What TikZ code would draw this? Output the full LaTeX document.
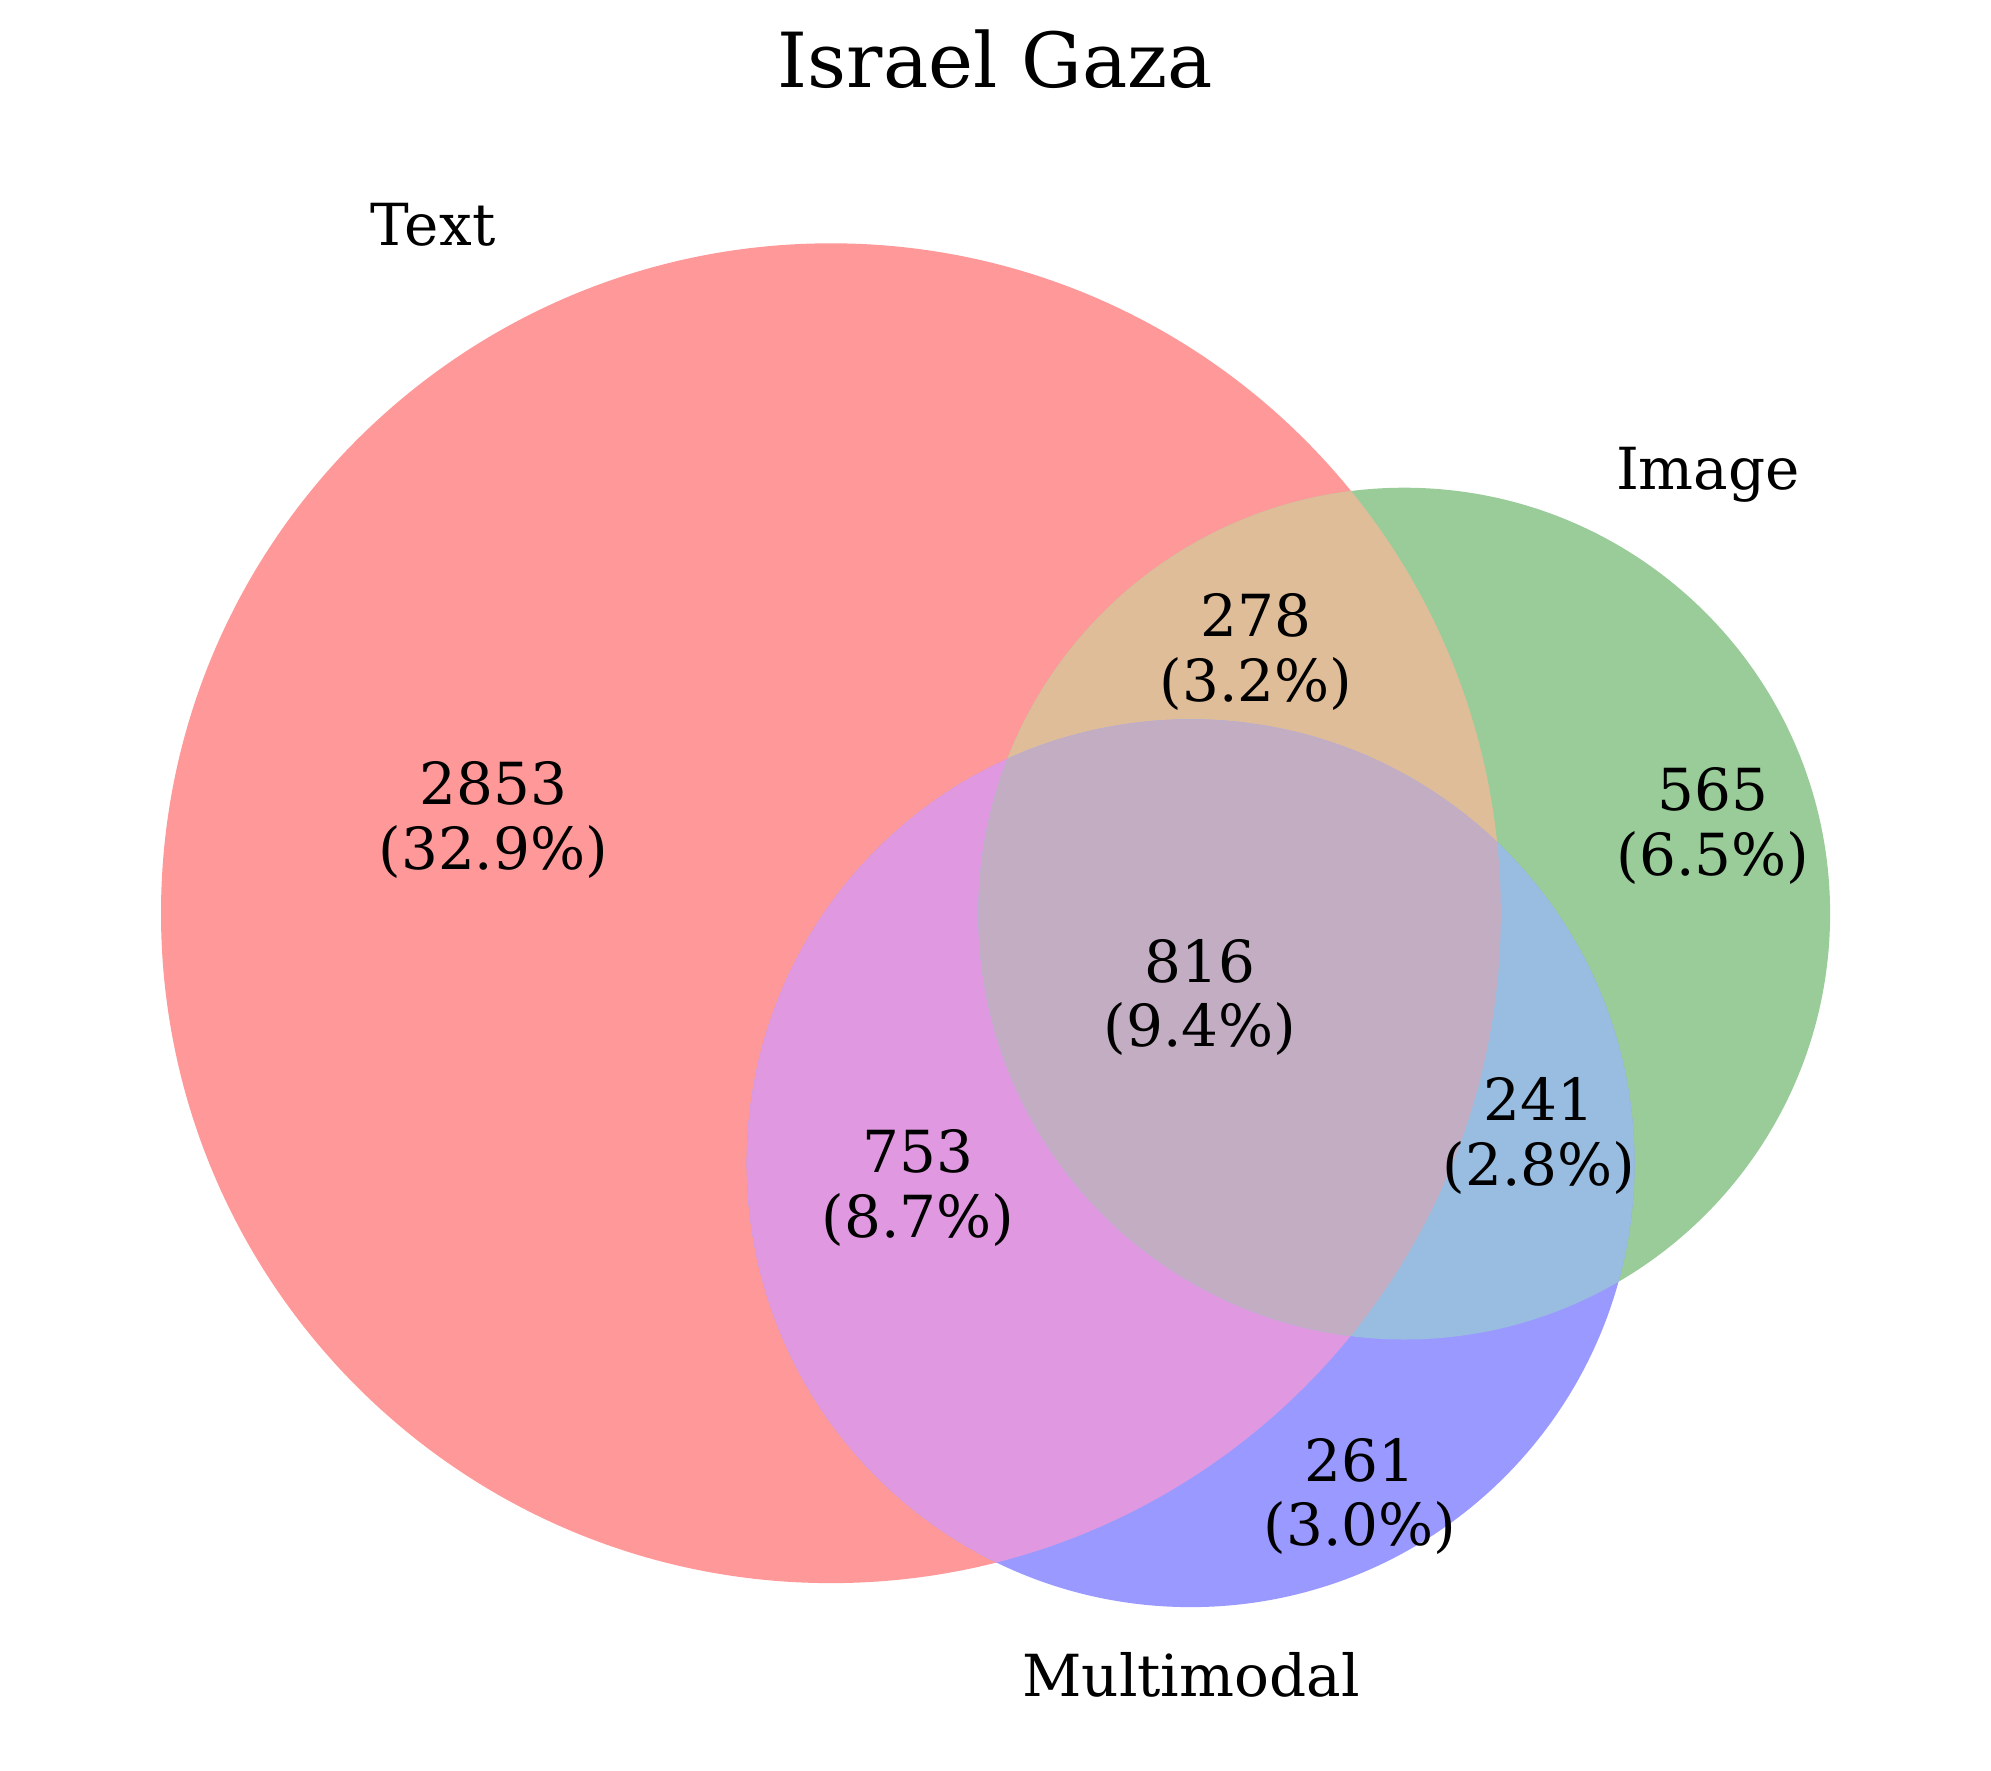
\documentclass[tikz,border=0pt]{standalone}
\usepackage{fontspec}
\setmainfont{DejaVu Serif}
\definecolor{cT}{RGB}{255,153,153}
\definecolor{cI}{RGB}{153,204,153}
\definecolor{cM}{RGB}{153,153,255}
\definecolor{cTI}{RGB}{224,189,153}
\definecolor{cTM}{RGB}{224,153,224}
\definecolor{cIM}{RGB}{153,189,224}
\definecolor{cTIM}{RGB}{194,173,194}
\begin{document}
\begin{tikzpicture}[x=1pt,y=-1pt,
  num/.style={font=\fontsize{58}{66}\selectfont, inner sep=0pt, anchor=base},
  titlestyle/.style={font=\fontsize{76}{90}\selectfont, inner sep=0pt, anchor=base}]
\useasboundingbox (0,0) rectangle (1991,1770);
\fill[white] (0,0) rectangle (1991,1770);
\def\rT{669.9}
\def\rI{425.9}
\def\rM{443.9}
\coordinate (cenT) at (830.9,913.2);
\coordinate (cenI) at (1404.2,913.6);
\coordinate (cenM) at (1190.6,1163.2);
% single sets
\fill[cT] (cenT) circle[radius=\rT];
\fill[cI] (cenI) circle[radius=\rI];
\fill[cM] (cenM) circle[radius=\rM];
% pairwise
\begin{scope}
\clip (cenT) circle[radius=\rT];
\fill[cTI] (cenI) circle[radius=\rI];
\end{scope}
\begin{scope}
\clip (cenT) circle[radius=\rT];
\fill[cTM] (cenM) circle[radius=\rM];
\end{scope}
\begin{scope}
\clip (cenI) circle[radius=\rI];
\fill[cIM] (cenM) circle[radius=\rM];
\end{scope}
% triple
\begin{scope}
\clip (cenT) circle[radius=\rT];
\clip (cenI) circle[radius=\rI];
\fill[cTIM] (cenM) circle[radius=\rM];
\end{scope}
% title and set labels
\node[titlestyle] (title) at (995.5,87.3) {Israel Gaza};
\node[num] (labT) at (433,245) {Text};
\node[num] (labI) at (1708,489) {Image};
\node[num] (labM) at (1191,1696.7) {Multimodal};
% region labels
\node[num] (r100) at (493.3,804.3) {2853};
\node[num] (r100p) at (493.3,869.0) {(32.9\%)};
\node[num] (r110) at (1255.8,636.7) {278};
\node[num] (r110p) at (1255.8,701.4) {(3.2\%)};
\node[num] (r010) at (1713,810.6) {565};
\node[num] (r010p) at (1713,875.3) {(6.5\%)};
\node[num] (r111) at (1200,982.1) {816};
\node[num] (r111p) at (1200,1046.8) {(9.4\%)};
\node[num] (r011) at (1539,1120.5) {241};
\node[num] (r011p) at (1539,1185.2) {(2.8\%)};
\node[num] (r101) at (918,1172.5) {753};
\node[num] (r101p) at (918,1237.2) {(8.7\%)};
\node[num] (r001) at (1360,1481.1) {261};
\node[num] (r001p) at (1360,1545.8) {(3.0\%)};
\end{tikzpicture}
\end{document}
